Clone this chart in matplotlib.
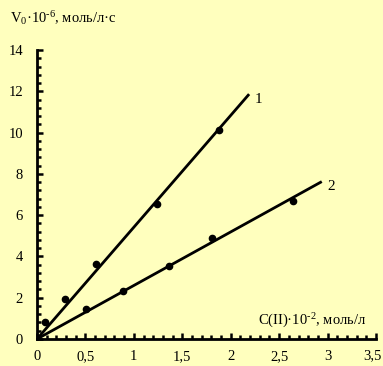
import matplotlib
matplotlib.use("Agg")
import matplotlib.pyplot as plt
import numpy as np
from matplotlib.ticker import MultipleLocator, FuncFormatter

# Measured initial rates for two series
c1 = [0.0, 0.08, 0.29, 0.61, 1.24, 1.88]
v1 = [0.0, 0.82, 1.94, 3.63, 6.54, 10.12]
c2 = [0.0, 0.505, 0.89, 1.36, 1.81, 2.64]
v2 = [0.0, 1.45, 2.32, 3.53, 4.89, 6.68]

# Linear fits through the origin, drawn up to these concentrations
fit_end = [2.19, 2.94]
series_labels = ["1", "2"]

x_max = 3.5
bg = "#FFFFBE"
plt.rcParams["font.family"] = ["Liberation Serif", "DejaVu Serif"]
plt.rcParams["mathtext.fontset"] = "custom"
plt.rcParams["mathtext.rm"] = "Liberation Serif"
plt.rcParams["mathtext.it"] = "Liberation Serif:italic"

fig = plt.figure(figsize=(3.83, 3.66), dpi=100, facecolor=bg)
ax = fig.add_axes([37 / 383, 27 / 366, 339 / 383, 289 / 366], facecolor=bg)

for c, v, end, lab in zip([c1, c2], [v1, v2], fit_end, series_labels):
    c_arr = np.array(c)
    v_arr = np.array(v)
    k = np.sum(c_arr * v_arr) / np.sum(c_arr * c_arr)
    xs = np.array([0.0, end])
    ax.plot(xs, k * xs, color="black", lw=2, solid_capstyle="butt", zorder=2)
    ax.plot(c, v, "o", color="black", ms=4.5, zorder=3)
    ax.text(end + 0.06, k * end - 0.25, lab, fontsize=11, ha="left", va="center")

ax.set_xlim(0, x_max)
ax.set_ylim(0, 14)
for s in ["top", "right"]:
    ax.spines[s].set_visible(False)
for s in ["left", "bottom"]:
    ax.spines[s].set_linewidth(2)

ax.xaxis.set_major_locator(MultipleLocator(0.5))
ax.xaxis.set_minor_locator(MultipleLocator(0.1))
ax.yaxis.set_major_locator(MultipleLocator(2))
ax.yaxis.set_minor_locator(MultipleLocator(0.4))


def comma(v):
    return ("%g" % v).replace(".", ",")


# the last x label is drawn separately so it stays inside the figure
ax.xaxis.set_major_formatter(FuncFormatter(
    lambda v, p: "" if abs(v - x_max) < 1e-9 else comma(v)))
ax.yaxis.set_major_formatter(FuncFormatter(lambda v, p: comma(v)))

ax.tick_params(axis="both", which="both", direction="in", width=1.8, labelsize=10.5)
ax.tick_params(axis="both", which="major", length=4)
ax.tick_params(axis="both", which="minor", length=3)
ax.tick_params(axis="x", pad=8)
ax.tick_params(axis="y", pad=10)

ax.annotate(comma(x_max), xy=(x_max, 0), xycoords="data",
            xytext=(-4, -10), textcoords="offset pixels",
            ha="center", va="top", fontsize=10.5, annotation_clip=False)

fig.text(10 / 383, 1 - 18 / 366, "V$_0$·10$^{\u2010 6}$, моль/л·с",
         fontsize=10.5, ha="left", va="center")
fig.text(366 / 383, 1 - 321 / 366, "C(II)·10$^{\u2010 2}$, моль/л",
         fontsize=10.5, ha="right", va="center")

fig.savefig("out.png", dpi=100, facecolor=bg)
